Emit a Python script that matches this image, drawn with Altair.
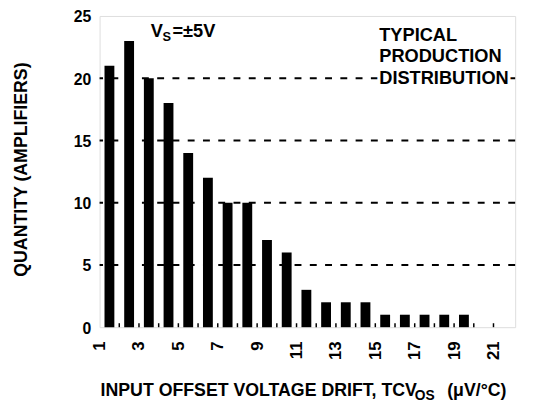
import altair as alt
import pandas as pd

# ---- data ----
bins = list(range(1, 20))
counts = [21, 23, 20, 18, 14, 12, 10, 10, 7, 6, 3, 2, 2, 2, 1, 1, 1, 1, 1]
x_label_values = list(range(1, 22, 2))
x_tick_values = list(range(2, 22))
y_label_values = [0, 5, 10, 15, 20, 25]
grid_values = [5, 10, 15, 20]

FONT = "Liberation Sans"
W, H = 422, 316
TS = 18.5

xs = alt.Scale(domain=[1, 22.1], nice=False, zero=False)
ys = alt.Scale(domain=[0, 25], nice=False)

x_axis = alt.Axis(
    values=x_label_values, labelAngle=270, labelAlign="right",
    labelBaseline="middle", ticks=False, domain=False, grid=False,
    labelPadding=14, labelFontSize=17, labelFont=FONT,
    labelFontWeight="bold", labelColor="black", labelFlush=False,
    title=None)
y_axis = alt.Axis(
    values=y_label_values, ticks=False, domain=False, grid=False,
    labelPadding=9, labelFontSize=16, labelFont=FONT, labelOffset=1,
    labelFontWeight="bold", labelColor="black", labelFlush=False, title=None)

one = pd.DataFrame({"a": [0]})

grid = alt.Chart(pd.DataFrame({"g": grid_values})).mark_rule(
    strokeDash=[7, 8.5], strokeWidth=2, color="black"
).encode(y=alt.Y("g:Q", scale=ys, axis=y_axis))

bars = alt.Chart(pd.DataFrame({"bin": bins, "count": counts})).transform_calculate(
    x0="datum.bin + 0.25", x1="datum.bin + 0.75"
).mark_rect(color="black").encode(
    x=alt.X("x0:Q", scale=xs, axis=x_axis),
    x2="x1:Q",
    y=alt.Y("count:Q", scale=ys, axis=y_axis),
    y2=alt.datum(0),
)

ticks = alt.Chart(pd.DataFrame({"t": x_tick_values})).mark_rule(
    strokeWidth=1.5, color="black"
).encode(
    x=alt.X("t:Q", scale=xs, axis=x_axis),
    y=alt.value(H), y2=alt.value(H - 4),
)

def txt(s, x, y, size=TS, **kw):
    return alt.Chart(one).mark_text(
        text=s, font=FONT, fontWeight="bold", fontSize=size, color="black",
        align=kw.pop("align", "left"), baseline=kw.pop("baseline", "alphabetic"), **kw
    ).encode(x=alt.value(x), y=alt.value(y))

typ_lines = ["TYPICAL", "PRODUCTION", "DISTRIBUTION"]
typ_halo = alt.Chart(one).mark_text(
    text=typ_lines, font=FONT, fontWeight="bold", fontSize=TS, lineHeight=22,
    align="left", baseline="alphabetic", color="white", stroke="white", strokeWidth=6
).encode(x=alt.value(284), y=alt.value(25))
typ = txt(typ_lines, 284, 25, lineHeight=22)

vs_v = txt("V", 52, 21)
vs_s = txt("S", 64, 25, size=13)
vs_rest = txt("=±5V", 74, 21)

ytitle = txt("QUANTITY (AMPLIFIERS)", -79, H / 2 - 2, size=18, angle=270,
             align="center", baseline="middle")

xt_main = txt("INPUT OFFSET VOLTAGE DRIFT, TCV", 1, 386, size=18)
xt_sub = txt("OS", 320, 390, size=14)
xt_rest = txt("(μV/°C)", 353, 386, size=18)

chart = alt.layer(
    grid, bars, ticks, typ_halo, typ, vs_v, vs_s, vs_rest, ytitle,
    xt_main, xt_sub, xt_rest
).properties(
    width=W, height=H,
    autosize=alt.AutoSizeParams(type="none"),
    padding={"left": 93, "top": 5, "right": 10, "bottom": 81},
).configure_view(stroke="black", strokeWidth=2).configure(background="white")

chart.save("out.html", embed_options={"renderer": "svg", "actions": False})
